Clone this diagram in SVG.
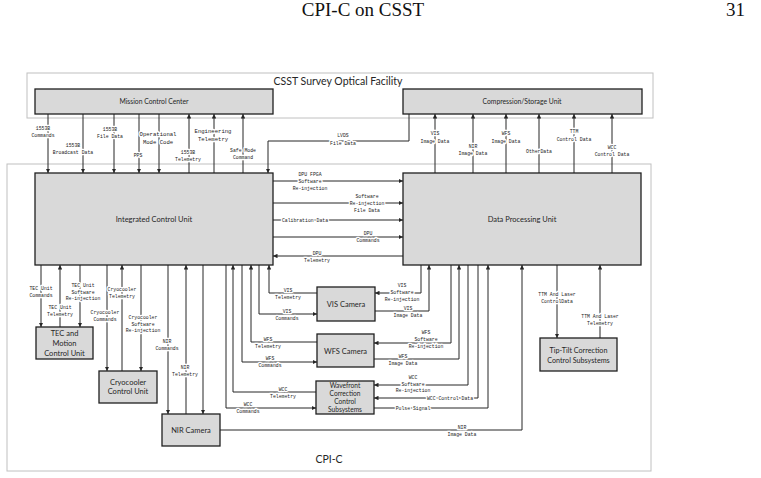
<svg xmlns="http://www.w3.org/2000/svg" width="761" height="478" viewBox="0 0 761 478">
<style>
.frame{fill:none;stroke:#c0c0c0;stroke-width:1}
.box{fill:#d9d9d9;stroke:#1f1f1f;stroke-width:1.3}
.ln{fill:none;stroke:#262626;stroke-width:1;marker-end:url(#ah)}
.lb{font-family:"Liberation Mono","DejaVu Sans Mono",monospace;font-size:4.8px;text-anchor:middle;fill:#222;stroke:#fff;stroke-width:2.6;paint-order:stroke;stroke-linejoin:round}
.lg{font-size:5.6px}
.bt{font-family:Lato,"Open Sans",sans-serif;font-size:7.5px;text-anchor:middle;fill:#262626}
.ft{font-family:Lato,"Open Sans",sans-serif;font-size:10.5px;text-anchor:middle;fill:#262626}
.hd{font-family:"Liberation Serif",serif;font-size:19px;fill:#111}
</style>
<defs>
<marker id="ah" viewBox="0 0 8 8" refX="8" refY="4" markerWidth="4.5" markerHeight="4.5" markerUnits="userSpaceOnUse" orient="auto">
<path d="M0,0 L8,4 L0,8 z" fill="#262626"/>
</marker>
</defs>
<rect width="761" height="478" fill="#fff"/>
<text class="hd" x="363" y="16" text-anchor="middle">CPI-C on CSST</text>
<text class="hd" x="745" y="16" text-anchor="end">31</text>

<g id="csst-frame">
<rect class="frame" x="27" y="73" width="626" height="45"/>
<text class="ft" x="338" y="85">CSST Survey Optical Facility</text>
</g>
<g id="cpic-frame">
<rect class="frame" x="7" y="164" width="644" height="307"/>
<text class="ft" x="329" y="463">CPI-C</text>
</g>

<g id="connectors">
<path class="ln" d="M48,114V173"/>
<path class="ln" d="M83,114V173"/>
<path class="ln" d="M114,114V173"/>
<path class="ln" d="M139,114V173"/>
<path class="ln" d="M159,114V173"/>
<path class="ln" d="M189,173V114"/>
<path class="ln" d="M214,173V114"/>
<path class="ln" d="M243,173V114"/>
<path class="ln" d="M409,114V141H268V173"/>
<path class="ln" d="M435,173V114"/>
<path class="ln" d="M473,173V114"/>
<path class="ln" d="M506,173V114"/>
<path class="ln" d="M539,173V114"/>
<path class="ln" d="M574,173V114"/>
<path class="ln" d="M612,173V114"/>
<path class="ln" d="M273,181H403"/>
<path class="ln" d="M273,203H403"/>
<path class="ln" d="M273,220H403"/>
<path class="ln" d="M273,237H403"/>
<path class="ln" d="M403,256H273"/>
<path class="ln" d="M41,265V327"/>
<path class="ln" d="M60,327V265"/>
<path class="ln" d="M80,265V327"/>
<path class="ln" d="M107,265V371"/>
<path class="ln" d="M122,371V265"/>
<path class="ln" d="M141,265V371"/>
<path class="ln" d="M168,265V414"/>
<path class="ln" d="M186,414V265"/>
<path class="ln" d="M203,265V414"/>
<path class="ln" d="M226,265V408H316"/>
<path class="ln" d="M316,392H233V265"/>
<path class="ln" d="M242,265V362H317"/>
<path class="ln" d="M317,342H251V265"/>
<path class="ln" d="M259,265V314H317"/>
<path class="ln" d="M317,293H269V265"/>
<path class="ln" d="M421,265V293H375"/>
<path class="ln" d="M375,311H429V265"/>
<path class="ln" d="M451,265V343H374"/>
<path class="ln" d="M374,359H459V265"/>
<path class="ln" d="M468,265V385H374"/>
<path class="ln" d="M478,265V398H374"/>
<path class="ln" d="M374,408H488V265"/>
<path class="ln" d="M220,430H522V265"/>
<path class="ln" d="M557,265V338"/>
<path class="ln" d="M600,338V265"/>

<text class="lb" x="43" y="130">1553B<tspan x="43" dy="7">Commands</tspan></text>
<text class="lb" x="73" y="147">1553B<tspan x="73" dy="7">Broadcast Data</tspan></text>
<text class="lb" x="110" y="131">1553B<tspan x="110" dy="7">File Data</tspan></text>
<text class="lb" x="138" y="157">PPS</text>
<text class="lb lg" x="158" y="136">Operational<tspan x="158" dy="8">Mode Code</tspan></text>
<text class="lb" x="188" y="154">1553B<tspan x="188" dy="7">Telemetry</tspan></text>
<text class="lb lg" x="213" y="133">Engineering<tspan x="213" dy="8">Telemetry</tspan></text>
<text class="lb" x="243" y="152">Safe Mode<tspan x="243" dy="7">Command</tspan></text>
<text class="lb" x="343" y="137">LVDS<tspan x="343" dy="8">File Data</tspan></text>
<text class="lb" x="435" y="135">VIS<tspan x="435" dy="8">Image Data</tspan></text>
<text class="lb" x="473" y="148">NIR<tspan x="473" dy="7">Image Data</tspan></text>
<text class="lb" x="506" y="135">WFS<tspan x="506" dy="8">Image Data</tspan></text>
<text class="lb" x="539" y="153">OtherData</text>
<text class="lb" x="574" y="133">TTM<tspan x="574" dy="8">Control Data</tspan></text>
<text class="lb" x="612" y="149">WCC<tspan x="612" dy="7">Control Data</tspan></text>

<text class="lb" x="310" y="176">DPU FPGA<tspan x="310" dy="7">Software</tspan><tspan x="310" dy="6.5">Re-injection</tspan></text>
<text class="lb" x="367" y="198">Software<tspan x="367" dy="7">Re-injection</tspan><tspan x="367" dy="6.5">File Data</tspan></text>
<text class="lb" x="305" y="222">Calibration Data</text>
<text class="lb" x="368" y="235">DPU<tspan x="368" dy="7">Commands</tspan></text>
<text class="lb" x="317" y="255">DPU<tspan x="317" dy="6.5">Telemetry</tspan></text>

<text class="lb" x="41" y="290">TEC Unit<tspan x="41" dy="6.5">Commands</tspan></text>
<text class="lb" x="60" y="309">TEC Unit<tspan x="60" dy="6.5">Telemetry</tspan></text>
<text class="lb" x="83" y="287">TEC Unit<tspan x="83" dy="6.5">Software</tspan><tspan x="83" dy="6.5">Re-injection</tspan></text>
<text class="lb" x="122" y="291">Cryocooler<tspan x="122" dy="7">Telemetry</tspan></text>
<text class="lb" x="105" y="314">Cryocooler<tspan x="105" dy="7">Commands</tspan></text>
<text class="lb" x="143" y="319">Cryocooler<tspan x="143" dy="6.5">Software</tspan><tspan x="143" dy="6.5">Re-injection</tspan></text>
<text class="lb" x="167" y="343">NIR<tspan x="167" dy="6.5">Commands</tspan></text>
<text class="lb" x="185" y="369">NIR<tspan x="185" dy="6.5">Telemetry</tspan></text>
<text class="lb" x="288" y="292">VIS<tspan x="288" dy="6.5">Telemetry</tspan></text>
<text class="lb" x="287" y="313">VIS<tspan x="287" dy="7">Commands</tspan></text>
<text class="lb" x="268" y="341">WFS<tspan x="268" dy="7">Telemetry</tspan></text>
<text class="lb" x="270" y="360">WFS<tspan x="270" dy="7">Commands</tspan></text>
<text class="lb" x="283" y="391">WCC<tspan x="283" dy="7">Telemetry</tspan></text>
<text class="lb" x="248" y="406">WCC<tspan x="248" dy="7">Commands</tspan></text>

<text class="lb" x="402" y="287">VIS<tspan x="402" dy="7">Software</tspan><tspan x="402" dy="6.5">Re-injection</tspan></text>
<text class="lb" x="408" y="310">VIS<tspan x="408" dy="6.5">Image Data</tspan></text>
<text class="lb" x="426" y="334">WFS<tspan x="426" dy="7">Software</tspan><tspan x="426" dy="6.5">Re-injection</tspan></text>
<text class="lb" x="403" y="358">WFS<tspan x="403" dy="7">Image Data</tspan></text>
<text class="lb" x="413" y="379">WCC<tspan x="413" dy="6.5">Software</tspan><tspan x="413" dy="6.5">Re-injection</tspan></text>
<text class="lb" x="450" y="400">WCC Control Data</text>
<text class="lb" x="413" y="410">Pulse Signal</text>
<text class="lb" x="462" y="429">NIR<tspan x="462" dy="6.5">Image Data</tspan></text>
<text class="lb" x="557" y="296">TTM And Laser<tspan x="557" dy="6.5">ControlData</tspan></text>
<text class="lb" x="600" y="318">TTM And Laser<tspan x="600" dy="7">Telemetry</tspan></text>
</g>

<g id="mission-control-center">
<rect class="box" x="35" y="89" width="238" height="25"/>
<text class="bt" x="154" y="104" style="font-size:6.8px">Mission Control Center</text>
</g>
<g id="compression-storage-unit">
<rect class="box" x="403" y="89" width="239" height="25"/>
<text class="bt" x="522" y="104" style="font-size:6.8px">Compression/Storage Unit</text>
</g>
<g id="integrated-control-unit">
<rect class="box" x="35" y="173" width="238" height="92"/>
<text class="bt" x="154" y="222">Integrated Control Unit</text>
</g>
<g id="data-processing-unit">
<rect class="box" x="403" y="173" width="238" height="92"/>
<text class="bt" x="522" y="222">Data Processing Unit</text>
</g>
<g id="tec-motion-control-unit">
<rect class="box" x="36" y="327" width="57" height="32"/>
<text class="bt" x="64.5" y="336">TEC and<tspan x="64.5" dy="10">Motion</tspan><tspan x="64.5" dy="10">Control Unit</tspan></text>
</g>
<g id="cryocooler-control-unit">
<rect class="box" x="99" y="371" width="58" height="32"/>
<text class="bt" x="128" y="385">Cryocooler<tspan x="128" dy="9">Control Unit</tspan></text>
</g>
<g id="nir-camera">
<rect class="box" x="162" y="414" width="58" height="32"/>
<text class="bt" x="191" y="432.5">NIR Camera</text>
</g>
<g id="vis-camera">
<rect class="box" x="317" y="287" width="58" height="34"/>
<text class="bt" x="346" y="306.5">VIS Camera</text>
</g>
<g id="wfs-camera">
<rect class="box" x="317" y="334" width="57" height="33"/>
<text class="bt" x="345.5" y="353.5">WFS Camera</text>
</g>
<g id="wavefront-correction-control-subsystems">
<rect class="box" x="316" y="381" width="58" height="33"/>
<text class="bt" x="345" y="387.5" style="font-size:6.6px">Wavefront<tspan x="345" dy="8.2">Correction</tspan><tspan x="345" dy="8.2">Control</tspan><tspan x="345" dy="8.2">Subsystems</tspan></text>
</g>
<g id="tip-tilt-correction-control-subsystems">
<rect class="box" x="540" y="338" width="77" height="33"/>
<text class="bt" x="578.5" y="353" style="font-size:7.2px">Tip-Tilt Correction<tspan x="578.5" dy="9.5">Control Subsystems</tspan></text>
</g>
</svg>
